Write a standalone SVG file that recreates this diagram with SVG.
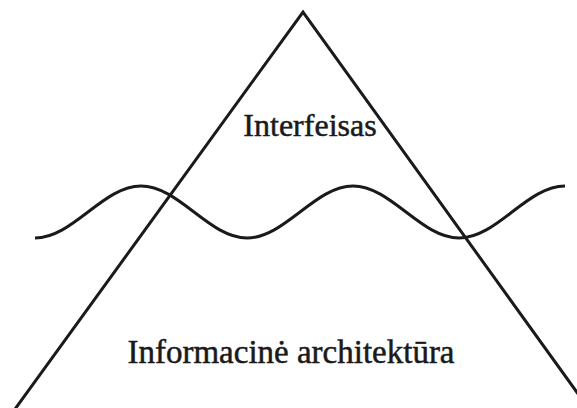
<svg xmlns="http://www.w3.org/2000/svg" width="577" height="408" viewBox="0 0 577 408">
<style>
.ln{fill:none;stroke:#1a1a1a;stroke-width:3;stroke-linejoin:miter;stroke-linecap:butt}
.t{font-family:"Liberation Serif","Times New Roman",serif;fill:#1a1a1a;stroke:#1a1a1a;stroke-width:0.5;text-anchor:middle}
</style>
<rect width="577" height="408" fill="#ffffff"/>
<g id="connectors">
<path id="triangle" class="ln" d="M10,416 L303,12 L594,416"/>
<path id="wave" class="ln" d="M35,238 C73,238 103,186 141,186 S209,238 247,238 S315,186 353,186 S421,238 459,238 S527,186 565,186"/>
</g>
<g id="node-interfeisas">
<text class="t" x="310" y="136" font-size="32">Interfeisas</text>
</g>
<g id="node-informacine">
<text class="t" x="291" y="363" font-size="33">Informacinė architektūra</text>
</g>
</svg>
